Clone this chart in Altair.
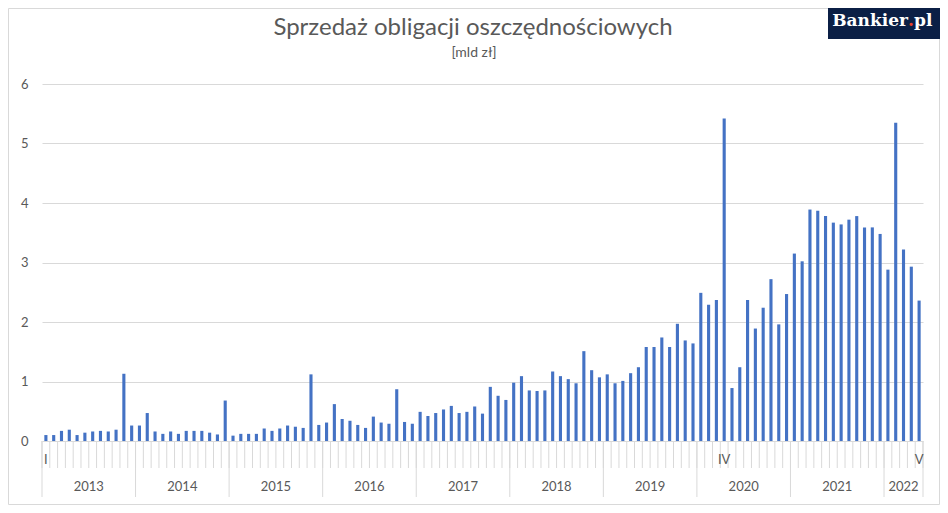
import altair as alt
import pandas as pd

# ---- data (monthly sales, bn PLN) ----
years = ["2013", "2014", "2015", "2016", "2017", "2018", "2019", "2020", "2021", "2022"]
s2013 = [0.10, 0.10, 0.17, 0.19, 0.10, 0.14, 0.16, 0.17, 0.16, 0.19, 1.13, 0.26]
s2014 = [0.26, 0.47, 0.16, 0.12, 0.16, 0.12, 0.17, 0.17, 0.17, 0.14, 0.11, 0.68]
s2015 = [0.09, 0.12, 0.12, 0.12, 0.21, 0.17, 0.21, 0.26, 0.24, 0.22, 1.12, 0.27]
s2016 = [0.31, 0.62, 0.37, 0.34, 0.27, 0.22, 0.41, 0.31, 0.29, 0.87, 0.32, 0.29]
s2017 = [0.49, 0.42, 0.47, 0.53, 0.59, 0.47, 0.49, 0.58, 0.46, 0.91, 0.76, 0.69]
s2018 = [0.98, 1.09, 0.85, 0.84, 0.85, 1.17, 1.09, 1.04, 0.97, 1.51, 1.19, 1.07]
s2019 = [1.12, 0.97, 1.01, 1.14, 1.24, 1.58, 1.58, 1.74, 1.58, 1.97, 1.69, 1.64]
s2020 = [2.49, 2.29, 2.37, 5.42, 0.89, 1.24, 2.37, 1.89, 2.24, 2.72, 1.96, 2.47]
s2021 = [3.15, 3.02, 3.89, 3.87, 3.78, 3.67, 3.64, 3.72, 3.78, 3.59, 3.59, 3.48]
s2022 = [2.88, 5.35, 3.22, 2.93, 2.36]
series = [s2013, s2014, s2015, s2016, s2017, s2018, s2019, s2020, s2021, s2022]

month_labels = ["I", "IV", "V"]
month_label_pos = [0, 87, 112]  # month index of labelled months

title_text = "Sprzedaż obligacji oszczędnościowych"
subtitle_text = "[mld zł]"
y_ticks = [0, 1, 2, 3, 4, 5, 6]

# ---- tables ----
values = [v for s in series for v in s]
n = len(values)
df = pd.DataFrame({"i": list(range(n)), "value": values})

starts, counts = [], []
acc = 0
for s in series:
    starts.append(acc)
    counts.append(len(s))
    acc += len(s)
year_df = pd.DataFrame({"year": years, "start": starts, "count": counts})
ybound_df = pd.DataFrame({"b": starts + [n]})
mbound_df = pd.DataFrame({"b": list(range(n + 1))})
mlab_df = pd.DataFrame({"lab": month_labels, "i": month_label_pos})

W, H = 881, 357
GREY = "#595959"
GRID = "#d9d9d9"
FONT = "Lato"

xs = alt.Scale(domain=[0, n], nice=False, zero=False)
ys = alt.Scale(domain=[0, 6], nice=False)

bars = (
    alt.Chart(df)
    .transform_calculate(x0="datum.i + 0.3", x1="datum.i + 0.7")
    .mark_rect(color="#4472C4")
    .encode(
        x=alt.X("x0:Q", scale=xs, axis=None),
        x2="x1:Q",
        y=alt.Y(
            "value:Q",
            scale=ys,
            axis=alt.Axis(
                values=y_ticks,
                grid=True,
                gridColor=GRID,
                domain=False,
                ticks=False,
                labelPadding=14,
                labelFontSize=13,
                labelColor=GREY,
                labelFont=FONT,
                title=None,
            ),
        ),
        y2=alt.datum(0),
    )
)

month_ticks = (
    alt.Chart(mbound_df)
    .mark_rule(color=GRID, strokeWidth=1)
    .encode(x=alt.X("b:Q", scale=xs, axis=None), y=alt.value(H), y2=alt.value(H + 27))
)

year_ticks = (
    alt.Chart(ybound_df)
    .mark_rule(color=GRID, strokeWidth=1)
    .encode(x=alt.X("b:Q", scale=xs, axis=None), y=alt.value(H), y2=alt.value(H + 56))
)

year_labels = (
    alt.Chart(year_df)
    .transform_calculate(c="datum.start + datum.count / 2")
    .mark_text(font=FONT, fontSize=13, color=GREY, baseline="middle", align="center")
    .encode(x=alt.X("c:Q", scale=xs, axis=None), y=alt.value(H + 46), text="year:N")
)

month_text = (
    alt.Chart(mlab_df)
    .transform_calculate(c="datum.i + 0.5")
    .mark_text(font=FONT, fontSize=13, color=GREY, baseline="middle", align="center")
    .encode(x=alt.X("c:Q", scale=xs, axis=None), y=alt.value(H + 19), text="lab:N")
)

title = (
    alt.Chart(pd.DataFrame({"t": [title_text]}))
    .mark_text(font=FONT, fontSize=24, color=GREY, baseline="middle", align="center")
    .encode(x=alt.value(431), y=alt.value(-56), text="t:N")
)
subtitle = (
    alt.Chart(pd.DataFrame({"t": [subtitle_text]}))
    .mark_text(font=FONT, fontSize=14, color=GREY, baseline="middle", align="center")
    .encode(x=alt.value(432), y=alt.value(-31), text="t:N")
)

frame = (
    alt.Chart(pd.DataFrame({"a": [0]}))
    .mark_rect(fillOpacity=0, stroke=GRID, strokeWidth=1)
    .encode(x=alt.value(-33.5), x2=alt.value(W + 16.5), y=alt.value(-75.5), y2=alt.value(H + 63.5))
)

logo_box = (
    alt.Chart(pd.DataFrame({"a": [0]}))
    .mark_rect(color="#0b1f45")
    .encode(x=alt.value(786), x2=alt.value(W + 17), y=alt.value(-76), y2=alt.value(-45))
)
LOGO_FS = 17
LOGO_Y = -58
logo_a = (
    alt.Chart(pd.DataFrame({"t": ["Bankier"]}))
    .mark_text(font="DejaVu Serif", fontWeight="bold", fontSize=LOGO_FS, color="white", align="right", baseline="alphabetic")
    .encode(x=alt.value(866), y=alt.value(LOGO_Y), text="t:N")
)
logo_dot = (
    alt.Chart(pd.DataFrame({"t": ["."]}))
    .mark_text(font="DejaVu Serif", fontWeight="bold", fontSize=LOGO_FS, color="#e8412c", align="center", baseline="alphabetic")
    .encode(x=alt.value(869), y=alt.value(LOGO_Y), text="t:N")
)
logo_b = (
    alt.Chart(pd.DataFrame({"t": ["pl"]}))
    .mark_text(font="DejaVu Serif", fontWeight="bold", fontSize=LOGO_FS, color="white", align="left", baseline="alphabetic")
    .encode(x=alt.value(872), y=alt.value(LOGO_Y), text="t:N")
)

chart = (
    alt.layer(frame, bars, month_ticks, year_ticks, year_labels, month_text, title, subtitle,
              logo_box, logo_a, logo_dot, logo_b)
    .properties(
        width=W,
        height=H,
        padding={"left": 34, "top": 76, "right": 17, "bottom": 64},
        autosize=alt.AutoSizeParams(type="none"),
        background="white",
    )
    .configure_view(stroke=None)
)

chart.save("out.html", embed_options={"renderer": "svg", "actions": False})
